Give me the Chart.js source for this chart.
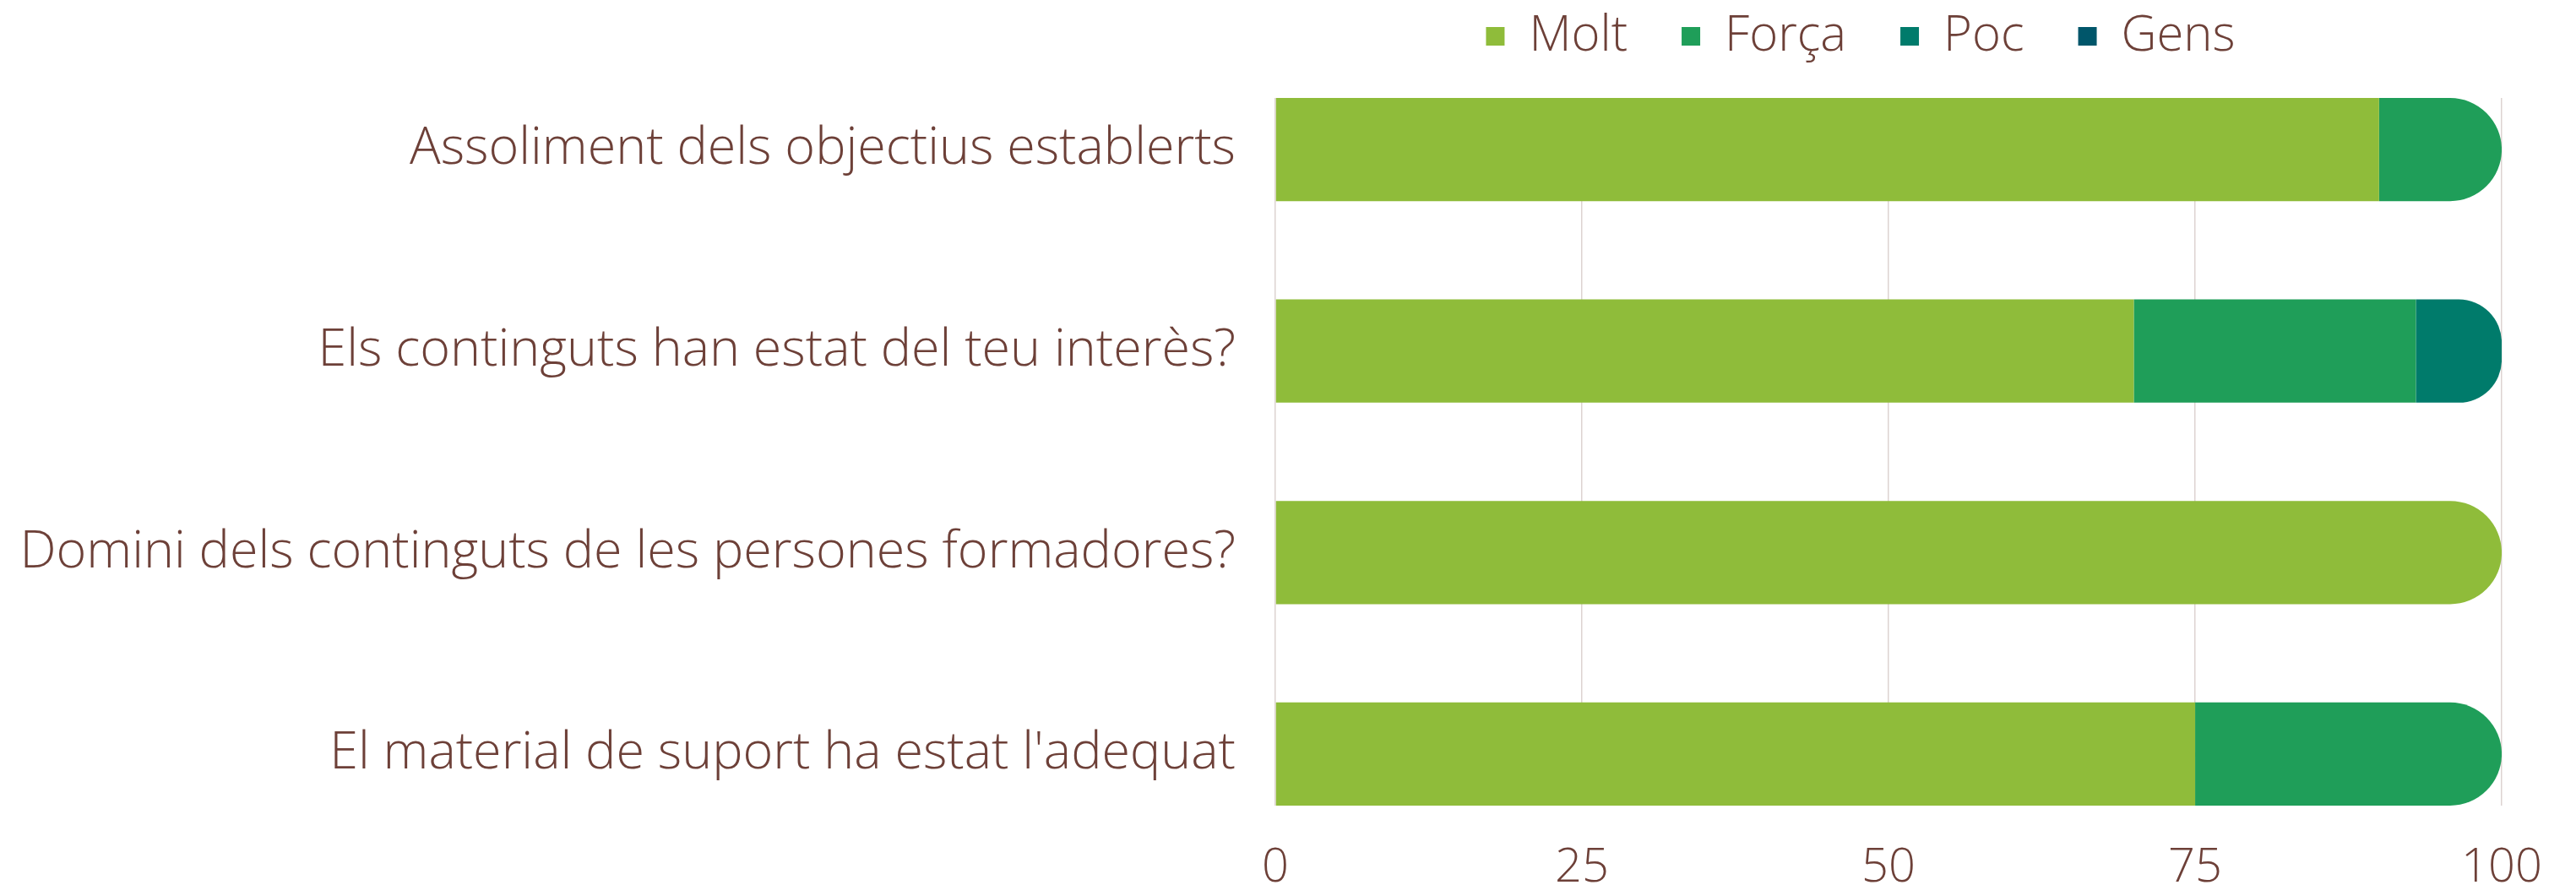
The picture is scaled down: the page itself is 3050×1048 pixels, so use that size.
<!DOCTYPE html>
<html>
<head>
<meta charset="utf-8">
<script src="https://cdn.jsdelivr.net/npm/chart.js@4.4.0/dist/chart.umd.min.js"></script>
<style>
  html, body { margin: 0; padding: 0; background: #ffffff; }
  #c { display: block; }
</style>
</head>
<body>
<canvas id="c" width="3050" height="1048"></canvas>
<script>
// ---- data ----
const categories = [
  "Assoliment dels objectius establerts",
  "Els continguts han estat del teu interès?",
  "Domini dels continguts de les persones formadores?",
  "El material de suport ha estat l'adequat"
];
const seriesNames = ["Molt", "Força", "Poc", "Gens"];
const molt  = [90, 70, 100, 75];
const forca = [10, 23, 0, 25];
const poc   = [0, 7, 0, 0];
const gens  = [0, 0, 0, 0];
const xTickValues = [0, 25, 50, 75, 100];

// ---- styling ----
const palette = ["#8fbc3a", "#1f9e59", "#007b6b", "#00566a"];
const textColor = "#6d4038";
const fontFamily = "'Open Sans', 'Noto Sans', sans-serif";

const seriesValues = [molt, forca, poc, gens];

function lastNonZero(row) {
  let last = -1;
  seriesValues.forEach((vals, d) => { if (vals[row] > 0) last = d; });
  return last;
}

const datasets = seriesValues.map((vals, d) => ({
  label: seriesNames[d],
  data: vals.map((v, i) => ({ x: v, y: i })),
  backgroundColor: palette[d],
  borderWidth: 0,
  categoryPercentage: 0.8,
  barPercentage: 0.64,
  borderSkipped: 'start',
  borderRadius: (ctx) => {
    if (ctx.type !== 'data') return 0;
    return ctx.datasetIndex === lastNonZero(ctx.dataIndex)
      ? { topLeft: 0, bottomLeft: 0, topRight: 300, bottomRight: 300 }
      : 0;
  }
}));

// legend box spans from a little left of the plot area to its right edge
const legendShift = {
  id: 'legendShift',
  afterLayout(chart) {
    const lg = chart.legend;
    lg.left = 1444;
    lg.width = lg.right - lg.left;
  }
};

new Chart(document.getElementById('c'), {
  type: 'bar',
  data: { datasets },
  plugins: [legendShift],
  options: {
    indexAxis: 'y',
    responsive: false,
    animation: false,
    devicePixelRatio: 1,
    layout: { padding: { left: 20, right: 86, top: -50, bottom: 0 } },
    plugins: {
      tooltip: { enabled: false },
      legend: {
        position: 'top',
        align: 'center',
        fullSize: false,
        labels: {
          color: textColor,
          font: { family: fontFamily, size: 58, weight: '300' },
          boxWidth: 22,
          boxHeight: 22,
          padding: 64
        }
      }
    },
    scales: {
      x: {
        type: 'linear',
        stacked: true,
        min: 0,
        max: 100,
        afterBuildTicks: (s) => { s.ticks = xTickValues.map(v => ({ value: v })); },
        afterFit: (s) => { s.height = 94; },
        grid: { color: '#ddd3d1', lineWidth: 1.5, drawTicks: false },
        border: { display: false },
        ticks: {
          color: textColor,
          font: { family: fontFamily, size: 56, weight: '300' },
          padding: 40,
          maxRotation: 0
        }
      },
      gap: {
        type: 'linear',
        position: 'top',
        display: true,
        afterFit: (s) => { s.height = 34; },
        grid: { display: false, drawTicks: false },
        border: { display: false },
        ticks: { display: false }
      },
      y: {
        type: 'linear',
        stacked: true,
        reverse: true,
        offset: false,
        min: -0.256,
        max: 3.256,
        afterBuildTicks: (s) => { s.ticks = categories.map((c, i) => ({ value: i })); },
        afterFit: (s) => { s.width = 1490; },
        grid: { display: false, drawTicks: false },
        border: { display: false },
        ticks: {
          color: textColor,
          font: { family: fontFamily, size: 61, weight: '300' },
          padding: 47,
          autoSkip: false,
          callback: (v) => categories[Math.round(v)]
        }
      }
    }
  }
});
</script>
</body>
</html>
